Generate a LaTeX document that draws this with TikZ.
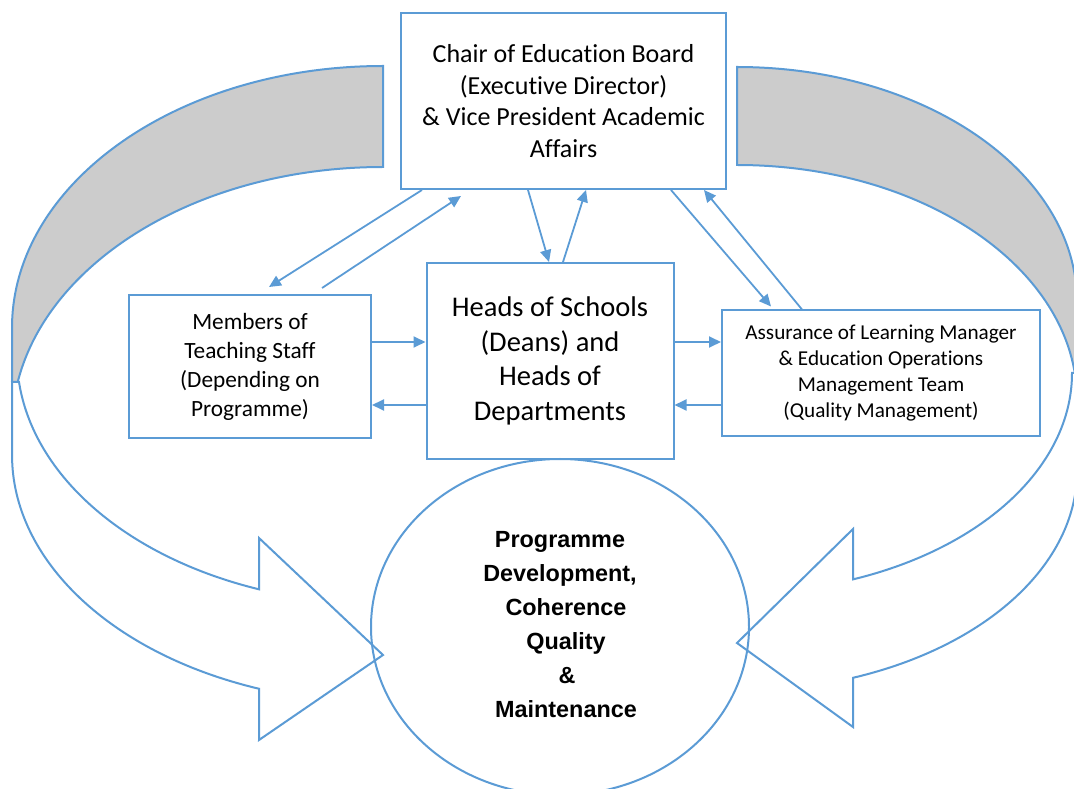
\documentclass[tikz,border=0pt]{standalone}
\usepackage{fontspec}
\setmainfont{Carlito}[Ligatures=NoCommon]
\newfontfamily\boldsans{Liberation Sans}
\usetikzlibrary{arrows.meta,shapes.geometric}
\definecolor{lineblue}{RGB}{91,155,213}
\definecolor{backgray}{RGB}{204,204,204}
\begin{document}
\begin{tikzpicture}[x=1pt,y=1pt,
  box/.style={draw=lineblue, line width=2pt, fill=white, align=center, inner sep=0pt},
  conn/.style={draw=lineblue, line width=1.8pt, -{Triangle[length=12pt,width=11pt]}},
  bandback/.style={draw=lineblue, line width=2pt, fill=backgray},
  bandfront/.style={draw=lineblue, line width=2pt, fill=white, line join=miter},
]
\useasboundingbox (0,0) rectangle (1074,788);
\clip (0,0) rectangle (1074,788);

% left curved arrow: back (gray) part
\path[bandback] (383,722) arc[start angle=90, end angle=180, x radius=371pt, y radius=262pt]
  -- (12,360) arc[start angle=180, end angle=90, x radius=371pt, y radius=261pt] -- cycle;
% left curved arrow: front part with head
\path[bandfront] (12,406.1) -- (19.0,406.1)
  arc[start angle=186, end angle=250.2, x radius=366pt, y radius=248pt]
  -- (259,250) -- (383,133) -- (259,48) -- (259.2,99.2)
  arc[start angle=250.5, end angle=180, x radius=371pt, y radius=248pt] -- cycle;

% right curved arrow: back (gray) part
\path[bandback] (737,721) arc[start angle=90, end angle=0, x radius=340pt, y radius=235pt]
  -- (1077,388) arc[start angle=0, end angle=90, x radius=340pt, y radius=235pt] -- cycle;
% right curved arrow: front part with head
\path[bandfront] (1077,415) -- (1072,415)
  arc[start angle=0, end angle=-69.74, x radius=335pt, y radius=220pt]
  -- (853,259) -- (737,145) -- (853,61) -- (853,110.2)
  arc[start angle=-70.05, end angle=0, x radius=340pt, y radius=220pt] -- cycle;

% boxes
\node[box, minimum width=325pt, minimum height=176pt, font=\fontsize{26}{31.5}\selectfont]
  (chair) at (563.5,687) {Chair of Education Board\\(Executive Director)\\\& Vice President Academic\\Affairs};
\node[box, minimum width=247pt, minimum height=196pt, font=\fontsize{28.5}{34.5}\selectfont]
  (heads) at (550,427) {Heads of Schools\\(Deans) and\\Heads of\\Departments};
\node[box, minimum width=242pt, minimum height=143pt, font=\fontsize{23.3}{29}\selectfont]
  (members) at (250,421.5) {Members of\\Teaching Staff\\(Depending on\\Programme)};
\node[box, minimum width=318pt, minimum height=126pt, font=\fontsize{21.2}{26}\selectfont]
  (assur) at (881,414.5) {Assurance of Learning Manager\\\& Education Operations\\Management Team\\(Quality Management)};

% goal ellipse
\node[ellipse, draw=lineblue, line width=2pt, minimum width=378pt, minimum height=336pt,
  inner sep=0pt, align=center, font=\boldsans\bfseries\fontsize{23.4}{34}\selectfont]
  (goal) at (560,161) {Programme\\Development,\\\hspace*{12pt}Coherence\\\hspace*{12pt}Quality\\\hspace*{14pt}\&\\\hspace*{12pt}Maintenance\\[-28pt]};

% connectors
\draw[conn] ([xshift=22pt]chair.south west) -- ([xshift=141pt,yshift=7pt]members.north west);
\draw[conn] ([xshift=194pt,yshift=6pt]members.north west) -- ([xshift=61pt,yshift=-6pt]chair.south west);
\draw[conn] ([xshift=128pt]chair.south west) -- ([xshift=123.5pt]heads.north west);
\draw[conn] ([xshift=137.5pt]heads.north west) -- ([xshift=186pt]chair.south west);
\draw[conn] ([xshift=271pt]chair.south west) -- ([xshift=50pt,yshift=3pt]assur.north west);
\draw[conn] ([xshift=81pt]assur.north west) -- ([xshift=-23pt]chair.south east);

\draw[conn] ([yshift=24.5pt]members.east) -- ([yshift=24.5pt]members.east -| heads.west);
\draw[conn] ([yshift=-38.5pt]members.east -| heads.west) -- ([yshift=-38.5pt]members.east);
\draw[conn] ([yshift=31.5pt]assur.west -| heads.east) -- ([yshift=31.5pt]assur.west);
\draw[conn] ([yshift=-31.5pt]assur.west) -- ([yshift=-31.5pt]assur.west -| heads.east);
\end{tikzpicture}
\end{document}
